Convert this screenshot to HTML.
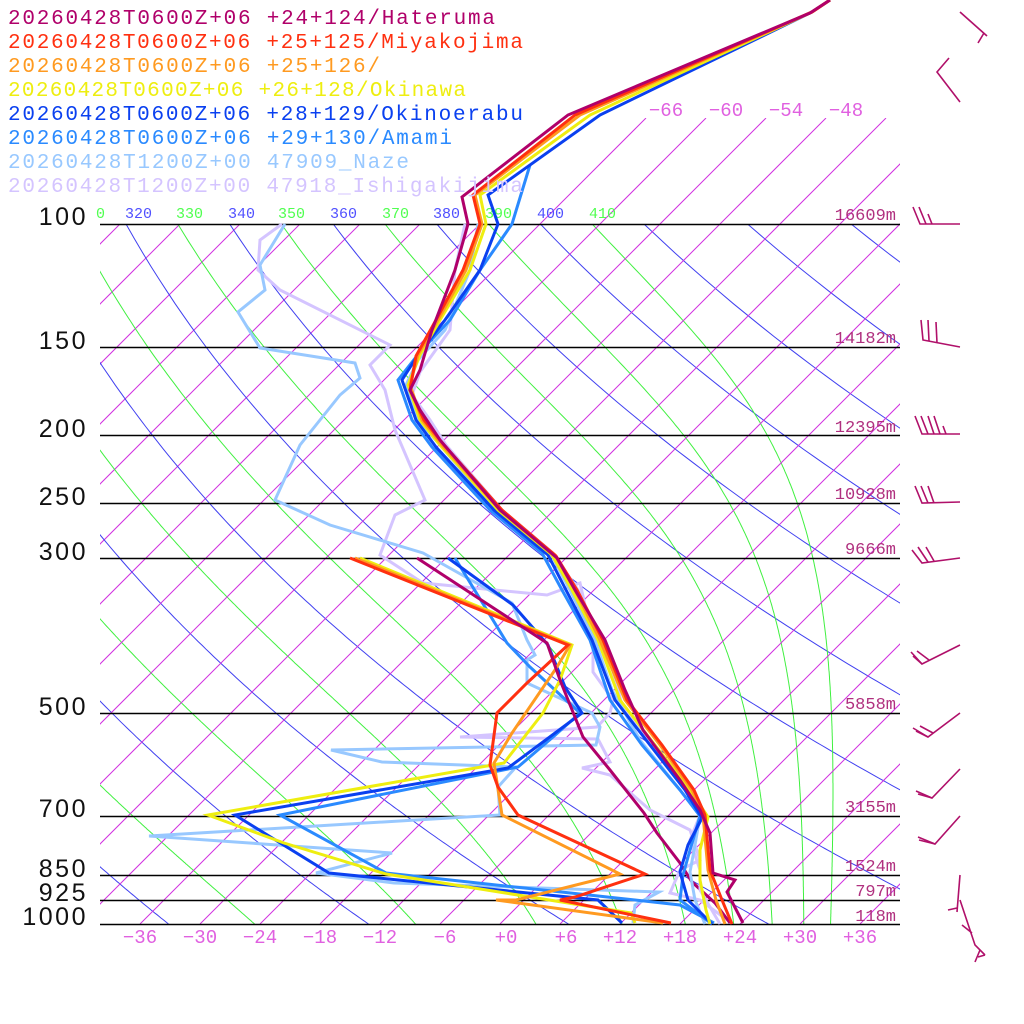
<!DOCTYPE html>
<html><head><meta charset="utf-8"><style>
html,body{margin:0;padding:0;background:#fff;width:1024px;height:1024px;overflow:hidden}
svg{display:block}
</style></head><body>
<svg id="s" width="1024" height="1024" viewBox="0 0 1024 1024" xmlns="http://www.w3.org/2000/svg">
<defs>
<clipPath id="cmain"><rect x="100" y="224" width="800" height="700"/></clipPath>
<clipPath id="ctop"><rect x="100" y="118" width="800" height="806"/></clipPath>
</defs>
<g id="grid"></g>
<g id="plines" stroke="#000" stroke-width="1.5">
</g>
<g font-family="Liberation Sans, sans-serif" font-size="25" fill="#111" text-anchor="end" letter-spacing="2.5">
<text x="88" y="225">100</text><text x="88" y="349">150</text><text x="88" y="437">200</text>
<text x="88" y="505">250</text><text x="88" y="560">300</text><text x="88" y="715">500</text>
<text x="88" y="817">700</text><text x="88" y="877">850</text><text x="88" y="901">925</text>
<text x="88" y="925">1000</text>
</g>
<g font-family="Liberation Mono, monospace" font-size="17" fill="#b0307f" text-anchor="end">
<text x="896" y="220">16609m</text><text x="896" y="343">14182m</text><text x="896" y="432">12395m</text>
<text x="896" y="499">10928m</text><text x="896" y="554">9666m</text><text x="896" y="709">5858m</text>
<text x="896" y="812">3155m</text><text x="896" y="871">1524m</text><text x="896" y="896">797m</text>
<text x="896" y="921">118m</text>
</g>
<g font-family="Liberation Mono, monospace" font-size="19" fill="#e060e0" text-anchor="middle">
<text x="140" y="943">−36</text><text x="200" y="943">−30</text><text x="260" y="943">−24</text>
<text x="320" y="943">−18</text><text x="380" y="943">−12</text><text x="445" y="943">−6</text>
<text x="506" y="943">+0</text><text x="566" y="943">+6</text><text x="620" y="943">+12</text>
<text x="680" y="943">+18</text><text x="740" y="943">+24</text><text x="800" y="943">+30</text>
<text x="860" y="943">+36</text>
<text x="666" y="116">−66</text><text x="726" y="116">−60</text><text x="786" y="116">−54</text><text x="846" y="116">−48</text>
</g>
<g font-family="Liberation Mono, monospace" font-size="15">
<text x="96" y="218" fill="#50ff50">0</text>
<text x="125" y="218" fill="#5050ff">320</text><text x="176" y="218" fill="#50ff50">330</text>
<text x="228" y="218" fill="#5050ff">340</text><text x="278" y="218" fill="#50ff50">350</text>
<text x="330" y="218" fill="#5050ff">360</text><text x="382" y="218" fill="#50ff50">370</text>
<text x="433" y="218" fill="#5050ff">380</text><text x="485" y="218" fill="#50ff50">390</text>
<text x="537" y="218" fill="#5050ff">400</text><text x="589" y="218" fill="#50ff50">410</text>
</g>
<g id="curves" fill="none" stroke-width="3" stroke-linejoin="miter"></g>
<g font-family="Liberation Mono, monospace" font-size="21">
<text x="8" y="24" textLength="487" fill="#b0006a">20260428T0600Z+06 +24+124/Hateruma</text>
<text x="8" y="48" textLength="515" fill="#ff3010">20260428T0600Z+06 +25+125/Miyakojima</text>
<text x="8" y="72" textLength="372" fill="#ff9a20">20260428T0600Z+06 +25+126/</text>
<text x="8" y="96" textLength="458" fill="#eeee10">20260428T0600Z+06 +26+128/Okinawa</text>
<text x="8" y="120" textLength="515" fill="#0a40f0">20260428T0600Z+06 +28+129/Okinoerabu</text>
<text x="8" y="144" textLength="444" fill="#2a8aff">20260428T0600Z+06 +29+130/Amami</text>
<text x="8" y="168" textLength="401" fill="#98c8ff">20260428T1200Z+00 47909_Naze</text>
<text x="8" y="192" textLength="515" fill="#d4c4ff">20260428T1200Z+00 47918_Ishigakijima</text>
</g>
<g fill="none" stroke="#b0106a" stroke-width="1.6">
<polyline points="960,12 987,36"/><polyline points="984,33 978,43"/>
<polyline points="949,58 937,72 960,102"/>
<polyline points="960,224 920,224 913,207"/><polyline points="926,224 919,207"/><polyline points="932,224 928,214"/>
<polyline points="960,347 923,340 921,320"/><polyline points="929,341 928,320"/><polyline points="937,343 936,322"/>
<polyline points="960,434 922,434 915,416"/><polyline points="928,434 921,416"/><polyline points="934,434 928,416"/><polyline points="940,434 934,416"/><polyline points="946,434 943,426"/>
<polyline points="960,502 922,503 915,486"/><polyline points="928,503 921,486"/><polyline points="934,503 928,486"/>
<polyline points="960,558 922,563 912,550"/><polyline points="928,562 918,547"/><polyline points="934,561 926,547"/>
<polyline points="960,645 922,664 911,652"/><polyline points="922,664 913,656"/><polyline points="929,660 917,651"/>
<polyline points="960,713 928,737 913,728"/><polyline points="928,737 916,731"/><polyline points="933,733 920,726"/>
<polyline points="960,769 932,798 916,791"/><polyline points="932,798 918,794"/>
<polyline points="960,816 935,844 918,837"/><polyline points="935,844 919,840"/>
<polyline points="960,875 957,912"/><polyline points="957,908 948,910"/>
<polyline points="960,900 975,945 985,955"/><polyline points="962,925 972,933"/><polyline points="985,955 978,957"/><polyline points="980,950 975,962"/>
</g>
</svg>
<script>
(function(){
var NS="http://www.w3.org/2000/svg";
function Y(p){return 924-700*Math.log10(1000/p);}
function X(T,y){return 500+10*T+(924-y);}
function el(parent,tag,attrs){var e=document.createElementNS(NS,tag);for(var k in attrs)e.setAttribute(k,attrs[k]);parent.appendChild(e);return e;}
var g=document.getElementById('grid');
var gm=el(g,'g',{'clip-path':'url(#cmain)'});
var gt=el(g,'g',{'clip-path':'url(#ctop)'});
for(var T=-120;T<=60;T+=6){
  var top=(T>=-66)?118:224;
  var x1=X(T,924),x2=X(T,top);
  el(T>=-66?gt:gm,'line',{x1:x1,y1:924,x2:x2,y2:top,stroke:'#d030e0','stroke-width':1});
}
for(var th=200;th<=480;th+=20){
  var pts=[];
  for(var p=1000;p>=95;p-=5){var t=th*Math.pow(p/1000,0.2857)-273.15;var y=Y(p);pts.push(X(t,y).toFixed(1)+','+y.toFixed(1));}
  el(gm,'polyline',{points:pts.join(' '),fill:'none',stroke:'#4040f0','stroke-width':1});
}
function es(tc){return 6.112*Math.exp(17.67*tc/(tc+243.5));}
function dTdp(T,p){var tc=T-273.15;var e=es(tc);var rs=0.622*e/Math.max(p-e,1);var Rd=287,cp=1005,L=2.5e6;
  return (Rd*T+L*rs)/(p*(cp+L*L*rs*0.622/(Rd*T*T)));}
for(var th=230;th<=410;th+=20){
  var T=th*Math.pow(0.1,0.2857);var p=100;var pts=[];
  while(p<=1000){var y=Y(p);pts.push(X(T-273.15,y).toFixed(1)+','+y.toFixed(1));
    var dp=2;var k1=dTdp(T,p);var k2=dTdp(T+k1*dp/2,p+dp/2);T+=k2*dp;p+=dp;}
  el(gm,'polyline',{points:pts.join(' '),fill:'none',stroke:'#40f040','stroke-width':1});
}
var pl=document.getElementById('plines');
[100,150,200,250,300,500,700,850,925,1000].forEach(function(p){var y=Math.round(Y(p))+0.5;el(pl,'line',{x1:100,y1:y,x2:900,y2:y});});
var c=document.getElementById('curves');
function L(col,pts,w){el(c,'polyline',{points:pts,stroke:col,'stroke-width':w||3});}
L('#d4c4ff','282,224 260,240 258,270 280,290 390,345 370,365 385,390 395,430 425,500 395,515 380,555 423,583 547,595 580,583 593,640 593,672 613,700 610,713 597,727 460,737 598,739 610,762 582,768 610,775 650,810 690,830 700,860 680,870 670,893 700,900 730,922');
L('#98c8ff','285,224 260,265 265,290 238,312 260,348 355,363 360,378 340,395 300,445 275,500 330,525 423,553 512,603 527,640 535,655 527,660 527,683 592,713 600,727 596,745 331,750 382,762 516,767 498,787 500,815 149,836 392,853 316,873 394,883 659,892 635,905 633,923');
L('#2a8aff','455,558 507,643 530,667 580,713 553,737 518,767 280,815 386,873 635,900 680,905 714,923');
L('#0a40f0','448,558 513,605 548,645 565,687 582,713 508,768 235,815 329,873 598,900 622,923');
L('#eeee10','360,558 572,645 560,680 543,713 504,763 208,815 284,843 386,874 631,913 635,923');
L('#ff9a20','355,558 570,645 557,667 512,733 494,763 502,815 620,874 516,900 496,900 663,923');
L('#ff3010','350,558 568,645 527,683 497,713 490,765 498,787 518,815 645,874 575,897 560,900 671,923');
L('#b0006a','417,558 547,643 560,680 583,737 610,770 644,813 657,833 680,863 692,882 715,903 730,923');
L('#d4c4ff','465,224 455,270 450,330 420,372 412,395 430,420 446,445 502,510 553,553 578,590 598,640 610,660 622,705 650,745 688,790 700,815 690,840 700,870 700,890 720,924');
L('#98c8ff','478,224 470,270 445,330 418,360 406,385 418,420 440,445 496,510 550,552 570,590 595,640 612,690 640,740 680,790 700,816 695,845 690,872 695,900 705,924');
L('#2a8aff','530,165 512,224 480,270 450,320 420,352 398,380 412,420 432,447 490,510 542,553 562,590 590,640 610,700 642,745 680,790 700,816 690,850 683,875 680,900 712,924');
L('#0a40f0','830,0 812,12 600,115 488,195 498,224 480,270 445,320 418,355 402,380 416,420 436,447 494,510 548,555 566,590 592,640 615,700 650,745 685,790 702,818 688,845 680,872 688,900 712,924');
L('#eeee10','830,0 812,12 590,115 480,195 486,224 470,270 440,320 420,355 408,385 420,420 440,445 498,510 552,555 572,590 598,640 620,700 655,745 690,790 708,817 700,850 700,880 706,910 710,924');
L('#ff9a20','830,0 812,12 580,115 475,195 482,224 466,270 438,320 418,355 410,385 422,420 442,445 500,510 555,555 575,590 600,640 625,700 660,745 692,790 703,815 708,870 716,900 725,924');
L('#ff3010','830,0 812,12 575,115 473,195 480,224 463,270 436,320 416,356 410,390 424,420 444,445 502,510 556,556 577,590 603,640 627,700 662,745 694,790 705,815 710,870 722,900 732,924');
L('#b0006a','830,0 810,13 568,115 462,197 468,224 455,270 432,330 420,370 410,390 420,410 440,440 500,510 557,558 575,590 605,640 625,690 643,730 680,780 700,810 710,833 713,873 735,880 727,892 743,923');
})();
</script>
</body></html>
